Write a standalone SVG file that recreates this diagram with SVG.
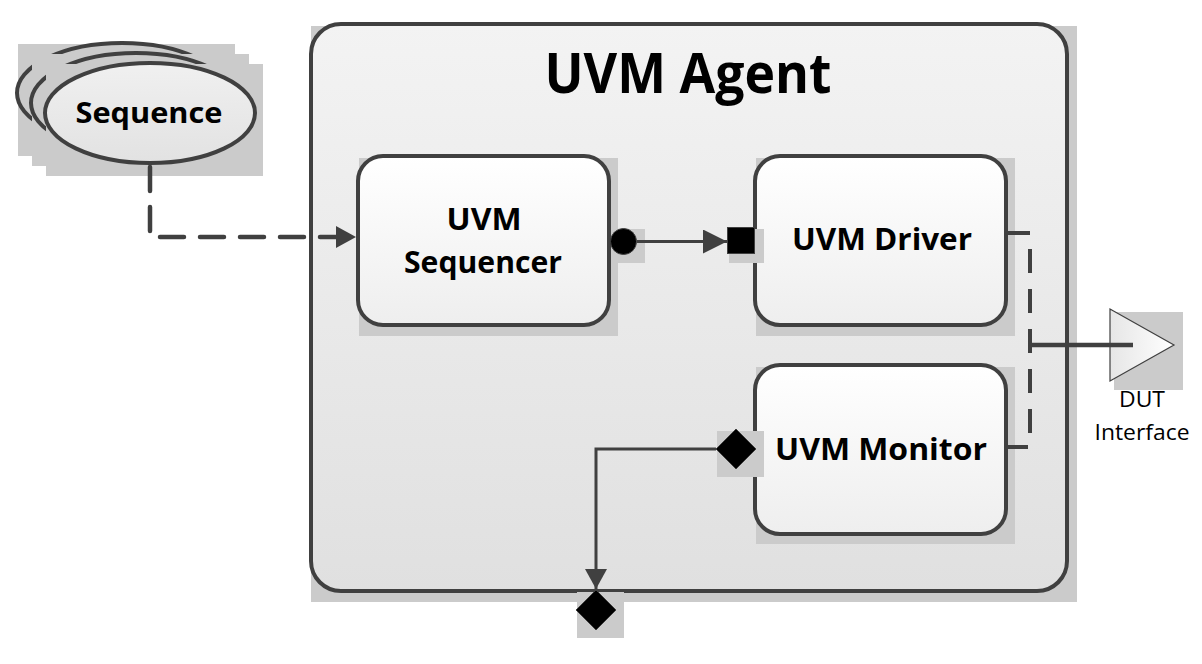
<svg xmlns="http://www.w3.org/2000/svg" width="1202" height="664" viewBox="0 0 1202 664">
<style>
.shadow{fill:#cbcbcb;stroke:none}
.edge{stroke:#404040;fill:none}
.lbl{font-family:"Open Sans","Liberation Sans",Arial,sans-serif;font-weight:bold;fill:#000;text-anchor:middle}
.small{font-family:"Open Sans","Liberation Sans",Arial,sans-serif;fill:#000;text-anchor:middle;font-size:21px}
.port{fill:#000;stroke:#404040;stroke-width:1}
</style>
<defs>
<linearGradient id="gAgent" x1="0" y1="0" x2="0" y2="1">
<stop offset="0" stop-color="#f3f3f3"/>
<stop offset="1" stop-color="#e0e0e0"/>
</linearGradient>
<linearGradient id="gBox" x1="0" y1="0" x2="0" y2="1">
<stop offset="0" stop-color="#ffffff"/>
<stop offset="1" stop-color="#eeeeee"/>
</linearGradient>
<linearGradient id="gEll" x1="0" y1="0" x2="0" y2="1">
<stop offset="0" stop-color="#f0f0f0"/>
<stop offset="1" stop-color="#e2e2e2"/>
</linearGradient>
<linearGradient id="gTri" x1="0" y1="0" x2="1" y2="0">
<stop offset="0" stop-color="#e6e6e6"/>
<stop offset="1" stop-color="#ffffff"/>
</linearGradient>
<marker id="arrBig" markerUnits="userSpaceOnUse" markerWidth="20" markerHeight="22" refX="20" refY="11" orient="auto" viewBox="0 0 20 22">
<path d="M0,0 L20,11 L0,22 Z" fill="#404040"/>
</marker>
<marker id="arrMid" markerUnits="userSpaceOnUse" markerWidth="24" markerHeight="24" refX="24" refY="12" orient="auto" viewBox="0 0 24 24">
<path d="M0,0 L24,12 L0,24 Z" fill="#404040"/>
</marker>
</defs>

<g id="sequence">
<rect class="shadow" x="18" y="44" width="217" height="112"/>
<ellipse cx="122" cy="93" rx="105" ry="50" fill="none" stroke="#404040" stroke-width="4"/>
<rect class="shadow" x="32" y="54" width="217" height="112"/>
<ellipse cx="136" cy="103" rx="105" ry="50" fill="none" stroke="#404040" stroke-width="4"/>
<rect class="shadow" x="46" y="64" width="217" height="112"/>
<ellipse cx="150" cy="113" rx="105" ry="50" fill="url(#gEll)" stroke="#404040" stroke-width="4"/>
<text class="lbl" x="149" y="123" font-size="29" textLength="147" lengthAdjust="spacingAndGlyphs">Sequence</text>
</g>

<g id="uvm_agent">
<rect class="shadow" x="311" y="26" width="766" height="576"/>
<rect x="311" y="24" width="756" height="567" rx="30" ry="30" fill="url(#gAgent)" stroke="#404040" stroke-width="4"/>
<text class="lbl" x="688" y="93" font-size="56" textLength="287" lengthAdjust="spacingAndGlyphs">UVM Agent</text>
</g>

<g id="uvm_sequencer">
<rect class="shadow" x="359" y="158" width="259" height="178"/>
<rect x="358" y="156" width="251" height="169" rx="25" ry="25" fill="url(#gBox)" stroke="#404040" stroke-width="4"/>
<text class="lbl" x="484" y="230" font-size="30" textLength="75" lengthAdjust="spacingAndGlyphs">UVM</text>
<text class="lbl" x="483" y="273" font-size="30" textLength="158" lengthAdjust="spacingAndGlyphs">Sequencer</text>
<rect class="shadow" x="612" y="229" width="33" height="34"/>
<circle class="port" cx="623.5" cy="241.5" r="13"/>
</g>

<g id="uvm_driver">
<rect class="shadow" x="756" y="158" width="259" height="178"/>
<rect x="755" y="156" width="251" height="169" rx="25" ry="25" fill="url(#gBox)" stroke="#404040" stroke-width="4"/>
<text class="lbl" x="882" y="250" font-size="30" textLength="180" lengthAdjust="spacingAndGlyphs">UVM Driver</text>
<rect class="shadow" x="729" y="229" width="35" height="34"/>
<rect class="port" x="727.5" y="227.5" width="27" height="26"/>
</g>

<g id="uvm_monitor">
<rect class="shadow" x="756" y="367" width="259" height="177"/>
<rect x="755" y="365" width="251" height="169" rx="25" ry="25" fill="url(#gBox)" stroke="#404040" stroke-width="4"/>
<text class="lbl" x="881" y="460" font-size="30" textLength="212" lengthAdjust="spacingAndGlyphs">UVM Monitor</text>
<rect class="shadow" x="717" y="431" width="47" height="46"/>
<polygon class="port" points="736,429 756,449 736,469 716,449"/>
</g>

<g id="analysis_port">
<rect class="shadow" x="577" y="592" width="47" height="46"/>
<polygon class="port" points="596,590 616,610 596,630 576,610"/>
</g>

<g id="dut_interface">
<rect class="shadow" x="1114" y="312" width="69" height="78"/>
<polygon points="1110,309 1110,381 1174,345" fill="url(#gTri)" stroke="#404040" stroke-width="1.2"/>
<text class="small" x="1142" y="407" textLength="46" lengthAdjust="spacingAndGlyphs">DUT</text>
<text class="small" x="1142" y="440" textLength="95" lengthAdjust="spacingAndGlyphs">Interface</text>
</g>

<g id="connectors">
<path class="edge" d="M150,167 V237 H356" stroke-width="4.5" stroke-dasharray="24 16" stroke-linecap="round" stroke-linejoin="round" marker-end="url(#arrBig)"/>
<path class="edge" d="M637,241.5 H727" stroke-width="3" marker-end="url(#arrMid)"/>
<path class="edge" d="M1006,233 H1030 V447 H1006" stroke-width="4" stroke-dasharray="24 16" stroke-linecap="butt" stroke-linejoin="miter"/>
<path class="edge" d="M1029,345 H1133" stroke-width="4.5"/>
<path class="edge" d="M716,449 H596 V589" stroke-width="3" marker-end="url(#arrBig)"/>
</g>
</svg>
